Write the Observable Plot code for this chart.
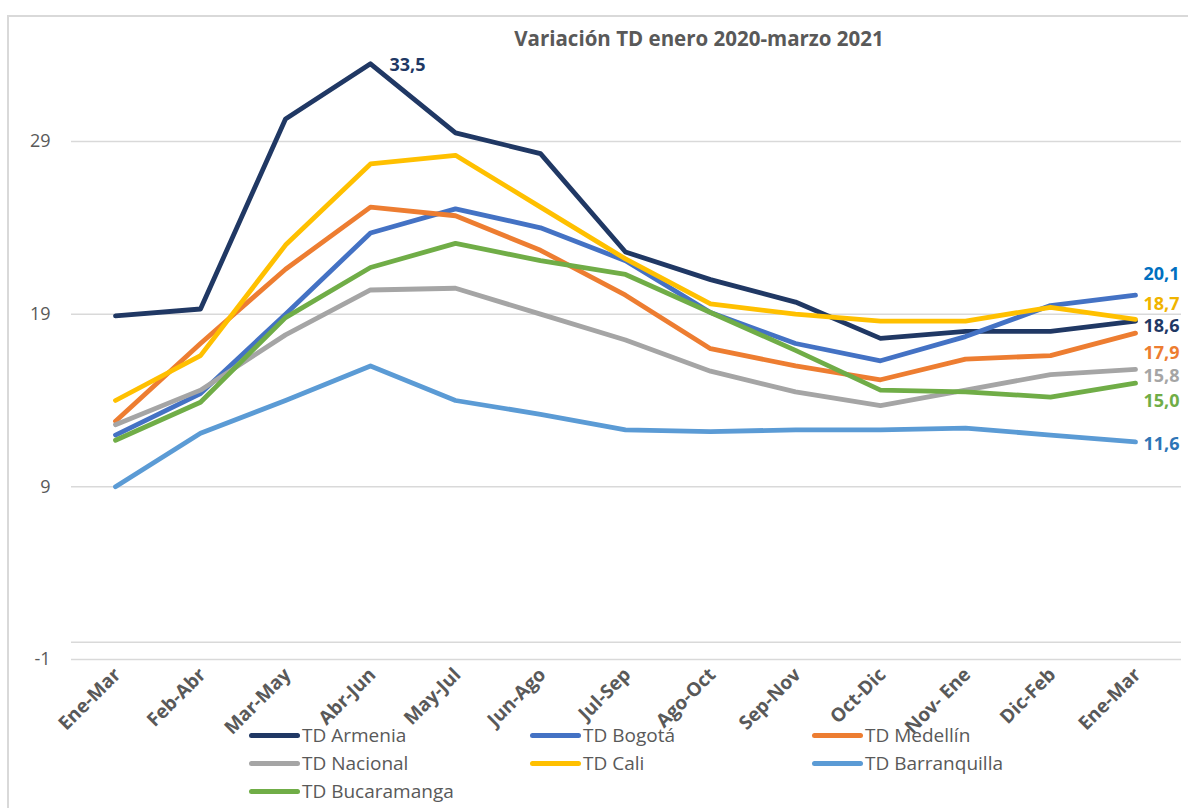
<!DOCTYPE html>
<html>
<head>
<meta charset="utf-8">
<script src="https://cdn.jsdelivr.net/npm/d3@7"></script>
<script src="https://cdn.jsdelivr.net/npm/@observablehq/plot@0.6"></script>
<style>
  html, body { margin: 0; padding: 0; background: #fff; }
  body { width: 1188px; height: 808px; overflow: hidden; position: relative; font-family: "Open Sans", sans-serif; }
  #frame { position: absolute; left: 7px; top: 15px; width: 1300px; height: 900px; border: 2px solid #d9d9d9; box-sizing: border-box; pointer-events: none; }
  #title { height: 49px; box-sizing: border-box; padding-top: 25px; text-align: center; padding-left: 210px; font-weight: 700; font-size: 20.5px; line-height: 26px; color: #595959; }
  #chart svg { display: block; }
  #legend { display: grid; grid-template-columns: 281px 282px 300px; padding-left: 249px; margin-top: -23px; position: relative; }
  .item { height: 28px; display: flex; align-items: center; font-size: 19px; color: #595959; }
  .sw { width: 51px; height: 5px; border-radius: 3px; margin-right: 2px; }
</style>
</head>
<body>
<div id="frame"></div>
<div id="title">Variación TD enero 2020-marzo 2021</div>
<div id="chart"></div>
<div id="legend"></div>
<script>
// ---- Data ----
const periods = ["Ene-Mar", "Feb-Abr", "Mar-May", "Abr-Jun", "May-Jul", "Jun-Ago", "Jul-Sep", "Ago-Oct", "Sep-Nov", "Oct-Dic", "Nov- Ene", "Dic-Feb", "Ene-Mar"];
const seriesNames = ["TD Armenia", "TD Bogotá", "TD Medellín", "TD Nacional", "TD Cali", "TD Barranquilla", "TD Bucaramanga"];
const armenia      = [18.9, 19.3, 30.3, 33.5, 29.5, 28.3, 22.6, 21.0, 19.7, 17.6, 18.0, 18.0, 18.6];
const bogota       = [12.0, 14.4, 19.0, 23.7, 25.1, 24.0, 22.1, 19.1, 17.3, 16.3, 17.7, 19.5, 20.1];
const medellin     = [12.8, 17.3, 21.6, 25.2, 24.7, 22.7, 20.1, 17.0, 16.0, 15.2, 16.4, 16.6, 17.9];
const nacional     = [12.6, 14.6, 17.8, 20.4, 20.5, 19.0, 17.5, 15.7, 14.5, 13.7, 14.6, 15.5, 15.8];
const cali         = [14.0, 16.6, 23.0, 27.7, 28.2, 25.2, 22.2, 19.6, 19.0, 18.6, 18.6, 19.4, 18.7];
const barranquilla = [9.0, 12.1, 14.0, 16.0, 14.0, 13.2, 12.3, 12.2, 12.3, 12.3, 12.4, 12.0, 11.6];
const bucaramanga  = [11.7, 13.9, 18.8, 21.7, 23.1, 22.1, 21.3, 19.1, 16.9, 14.6, 14.5, 14.2, 15.0];
const yTicks = [-1, 9, 19, 29];

// ---- Build table ----
const seriesValues = [armenia, bogota, medellin, nacional, cali, barranquilla, bucaramanga];
const keys = periods.map((p, i) => i + "|" + p);
const rows = [];
seriesNames.forEach((s, si) => seriesValues[si].forEach((v, i) => rows.push({series: s, key: keys[i], value: v})));

const colors = ["#203864", "#4472C4", "#ED7D31", "#A5A5A5", "#FFC000", "#5B9BD5", "#70AD47"];
const labelColors = ["#1F3864", "#0070C0", "#ED7D31", "#A5A5A5", "#F0B400", "#2E75B6", "#70AD47"];
const labelDy = {"TD Bogotá": -27, "TD Cali": -21, "TD Armenia": -1, "TD Medellín": 14, "TD Nacional": 1, "TD Bucaramanga": 12, "TD Barranquilla": -3};

const lastRows = rows.filter(d => d.key === keys[keys.length - 1]);
const peakRow = rows.filter(d => d.series === "TD Armenia").reduce((a, b) => (b.value > a.value ? b : a));
const fmt = v => v.toFixed(1).replace(".", ",");

const chart = Plot.plot({
  width: 1188,
  height: 695,
  marginLeft: 71,
  marginRight: 7,
  marginTop: 0,
  marginBottom: 0,
  style: {fontFamily: "Open Sans, sans-serif", overflow: "hidden"},
  x: {type: "point", domain: keys, range: [111, 1138], padding: 0, axis: null},
  y: {domain: [-1, 29], range: [610, 92], axis: null},
  color: {domain: seriesNames, range: colors},
  marks: [
    Plot.ruleY(yTicks, {stroke: "#d9d9d9", strokeWidth: 1.5}),
    Plot.ruleY([0], {stroke: "#d9d9d9", strokeWidth: 1.5}),
    Plot.text(yTicks, {frameAnchor: "left", y: d => d, text: d => String(d), textAnchor: "end", dx: -21, fontSize: 18, fill: "#595959"}),
    Plot.text(keys, {x: d => d, y: -1, text: d => d.split("|")[1], rotate: -45, textAnchor: "end", dx: 2, dy: 12, fontSize: 19, fontWeight: 700, fill: "#595959"}),
    Plot.line(rows, {x: "key", y: "value", z: "series", stroke: "series", strokeWidth: 4.8, strokeLinejoin: "round", strokeLinecap: "round"}),
    Plot.text([peakRow], {x: "key", y: "value", text: d => fmt(d.value), textAnchor: "start", dx: 19, dy: 1, fontSize: 18, fontWeight: 700, fill: labelColors[0]}),
    Plot.text(lastRows, {x: "key", y: "value", text: d => fmt(d.value), textAnchor: "start", dx: 8, fontSize: 18, fontWeight: 700,
      fill: d => labelColors[seriesNames.indexOf(d.series)]})
  ]
});
document.getElementById("chart").appendChild(chart);
// per-label vertical offsets for the end labels
const textGroups = chart.querySelectorAll("g[aria-label='text']");
const endGroup = textGroups[textGroups.length - 1];
endGroup.querySelectorAll("text").forEach((t, i) => {
  const dy = labelDy[lastRows[i].series];
  t.setAttribute("dy", (dy / 18 + 0.32).toFixed(3) + "em");
});

const legend = document.getElementById("legend");
seriesNames.forEach((s, i) => {
  const it = document.createElement("div");
  it.className = "item";
  it.innerHTML = `<span class="sw" style="background:${colors[i]}"></span><span>${s}</span>`;
  legend.appendChild(it);
});
</script>
</body>
</html>
